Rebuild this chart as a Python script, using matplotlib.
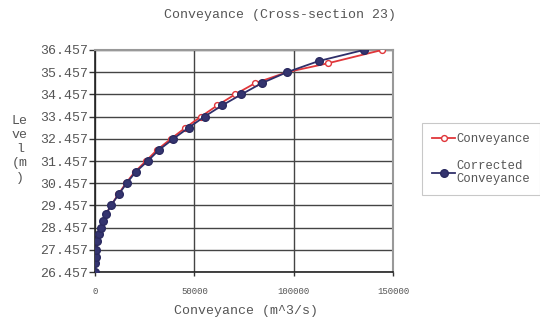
import matplotlib
matplotlib.use("Agg")
import matplotlib.pyplot as plt

# water levels (m) and conveyance (m^3/s) at cross-section 23
levels_raw = [26.457, 26.857, 27.157, 27.457, 27.857, 28.157, 28.457, 28.757,
              29.057, 29.457, 29.957, 30.457, 30.957, 31.457, 31.957, 32.457,
              32.957, 33.457, 33.957, 34.457, 34.957, 35.457, 35.857, 36.457]
conv_raw = [0, 0, 300, 600, 1200, 2000, 3000, 4200, 5500, 8000, 11700, 15500,
            19900, 25600, 31200, 38200, 45500, 53300, 61500, 70500, 80500,
            96700, 117300, 144600]

levels_corr = [26.457, 26.857, 27.157, 27.457, 27.857, 28.157, 28.457, 28.757,
               29.057, 29.457, 29.957, 30.457, 30.957, 31.457, 31.957, 32.457,
               32.957, 33.457, 33.957, 34.457, 34.957, 35.457, 35.957, 36.457]
conv_corr = [0, 0, 300, 600, 1200, 2000, 3000, 4200, 5500, 8000, 11900, 15900,
             20400, 26500, 32200, 39400, 47100, 55100, 63900, 73700, 83800,
             96700, 112600, 135400]

yticks = [26.457 + i for i in range(11)]
xticks = [0, 50000, 100000, 150000]

font = "Liberation Mono"
plt.rcParams["font.family"] = [font, "DejaVu Sans Mono"]
txt = "#555555"

fig = plt.figure(figsize=(5.4, 3.24), dpi=100)
ax = fig.add_axes([0.176, 0.160, 0.552, 0.686])

ax.plot(conv_raw, levels_raw, color="#e0363a", lw=1.3, marker="o", ms=4.2,
        mfc="white", mec="#e0363a", mew=1.0, label="Conveyance", zorder=3)
ax.plot(conv_corr, levels_corr, color="#2f2f6a", lw=1.3, marker="o", ms=5.5,
        mfc="#34346f", mec="#2a2a60", label="Corrected\nConveyance", zorder=4)

ax.set_xlim(0, 150000)
ax.set_ylim(26.457, 36.457)
ax.set_xticks(xticks)
ax.set_xticklabels([str(v) for v in xticks], fontsize=6.5, color=txt)
ax.set_yticks(yticks)
ax.set_yticklabels(["%.3f" % v for v in yticks], fontsize=9.5, color=txt)
ax.tick_params(axis="y", length=4, width=1, color="#333333", pad=1)
ax.tick_params(axis="x", length=3, width=1, color="#333333", pad=8)

ax.grid(True, color="#444444", lw=1.0)
ax.set_axisbelow(True)
for side in ["top", "right"]:
    ax.spines[side].set_color("#999999")
    ax.spines[side].set_linewidth(1.5)
for side in ["left", "bottom"]:
    ax.spines[side].set_color("#222222")
    ax.spines[side].set_linewidth(1.2)

fig.text(0.518, 0.955, "Conveyance (Cross-section 23)", ha="center",
         va="center", fontsize=9.5, color=txt)
fig.text(0.455, 0.04, "Conveyance (m^3/s)", ha="center", va="center",
         fontsize=9.5, color=txt)
fig.text(0.037, 0.54, "Le\nve\nl\n(m\n)", ha="center", va="center",
         fontsize=9.5, color=txt, linespacing=1.25)

leg = fig.legend(loc="upper left", bbox_to_anchor=(0.782, 0.62),
                 fontsize=8.8, frameon=True, fancybox=False, handlelength=1.9,
                 handletextpad=0.1, borderpad=0.8, labelspacing=1.2,
                 borderaxespad=0)
leg.get_frame().set_edgecolor("#bbbbbb")
leg.get_frame().set_linewidth(0.8)
for t in leg.get_texts():
    t.set_color(txt)

fig.savefig("out.png", dpi=100)
